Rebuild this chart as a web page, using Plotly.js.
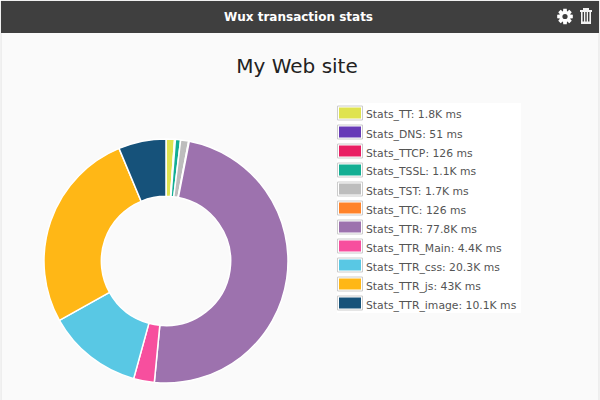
<!DOCTYPE html>
<html><head><meta charset="utf-8">
<script src="https://cdn.plot.ly/plotly-3.0.1.min.js"></script>
<style>html,body{margin:0;padding:0;background:#fff}#c{width:600px;height:400px}</style>
</head><body><div id="c"></div>
<script>
const names = ['Stats_TT','Stats_DNS','Stats_TTCP','Stats_TSSL','Stats_TST','Stats_TTC','Stats_TTR','Stats_TTR_Main','Stats_TTR_css','Stats_TTR_js','Stats_TTR_image'];
const values = [1800,51,126,1100,1700,126,77800,4400,20300,43000,10100];
const valueLabels = ['1.8K','51','126','1.1K','1.7K','126','77.8K','4.4K','20.3K','43K','10.1K'];
const colors = ['#dfe34f','#673ab7','#e91e63','#13ae93','#bdbdbd','#ff832a','#9d72ae','#f74f9e','#59c8e4','#ffb716','#16527a'];

const W = 600, H = 400;
const px = x => x / W, py = y => 1 - y / H;
const rect = (x0, y0, x1, y1, fill, line, lw) => ({type:'rect', xref:'paper', yref:'paper', layer:'below',
  x0:px(x0), x1:px(x1), y0:py(y0), y1:py(y1), fillcolor:fill, line:{color:line||fill, width:lw||0}});
const icon = (x0, y0, x1, y1, fill) => ({type:'rect', xref:'paper', yref:'paper', layer:'above',
  x0:px(x0), x1:px(x1), y0:py(y0), y1:py(y1), fillcolor:fill, line:{width:0}});

const shapes = [
  rect(1, 1, 599, 401, '#fafafa', '#e2e2e2', 1),
  rect(1, 1, 599, 33, '#3f3f3f'),
  rect(337, 103, 521, 313, '#ffffff')
];
const annotations = [
  {text:'<b>Wux transaction stats</b>', x:px(298), y:py(17.5), xref:'paper', yref:'paper', showarrow:false,
   xanchor:'center', yanchor:'middle', font:{family:'DejaVu Sans', size:12, color:'#ffffff'}}
];
// gear icon: toothed outline around a centre hole
const gx = 565, gy = 16.5;
let gear = '';
for (let k = 0; k < 8; k++) {
  const a = k * Math.PI / 4 - Math.PI / 2;
  [[-0.36, 5.6], [-0.22, 8], [0.22, 8], [0.36, 5.6]].forEach(p => {
    const x = px(gx + p[1] * Math.cos(a + p[0])), y = py(gy + p[1] * Math.sin(a + p[0]));
    gear += (gear ? 'L' : 'M') + x + ',' + y;
  });
}
shapes.push({type:'path', xref:'paper', yref:'paper', layer:'above', path:gear + 'Z', fillcolor:'#ffffff', line:{width:0}});
shapes.push({type:'circle', xref:'paper', yref:'paper', layer:'above', x0:px(gx-2.6), x1:px(gx+2.6), y0:py(gy-2.6), y1:py(gy+2.6), fillcolor:'#3f3f3f', line:{width:0}});
// trash can
shapes.push(icon(580, 10, 592, 12, '#f2f2f2'), icon(583, 8, 589, 10, '#f2f2f2'));
[[581,582.6],[584,585.3],[586.7,588],[589.4,591]].forEach(b => shapes.push(icon(b[0], 12, b[1], 23, '#f2f2f2')));
shapes.push(icon(581, 21.5, 591, 24, '#f2f2f2'));

names.forEach((n, i) => {
  const y = 113 + i * 19;
  shapes.push(rect(337.5, y - 7, 362.5, y + 7, '#ffffff', '#cccccc', 1));
  shapes.push(rect(339, y - 5.5, 361, y + 5.5, colors[i]));
  annotations.push({text: n + ': ' + valueLabels[i] + ' ms', x:px(364), y:py(y + 2), xref:'paper', yref:'paper',
    showarrow:false, xanchor:'left', yanchor:'middle', font:{family:'DejaVu Sans', size:10.8, color:'#545454'}});
});

Plotly.newPlot('c', [{
  type:'pie', labels:names, values:values, sort:false, direction:'clockwise', rotation:0, hole:0.53,
  textinfo:'none', hoverinfo:'label+value',
  marker:{colors:colors, line:{color:'#ffffff', width:1.5}},
  domain:{x:[px(44), px(288)], y:[py(383), py(139)]}
}], {
  width:W, height:H, margin:{l:0,r:0,t:0,b:0}, showlegend:false,
  paper_bgcolor:'#ffffff',
  title:{text:'My Web site', x:px(297), xanchor:'center', y:py(66), yanchor:'middle',
    font:{family:'DejaVu Sans', size:20, color:'#222222'}},
  shapes:shapes, annotations:annotations
}, {displayModeBar:false, staticPlot:true});
</script></body></html>
